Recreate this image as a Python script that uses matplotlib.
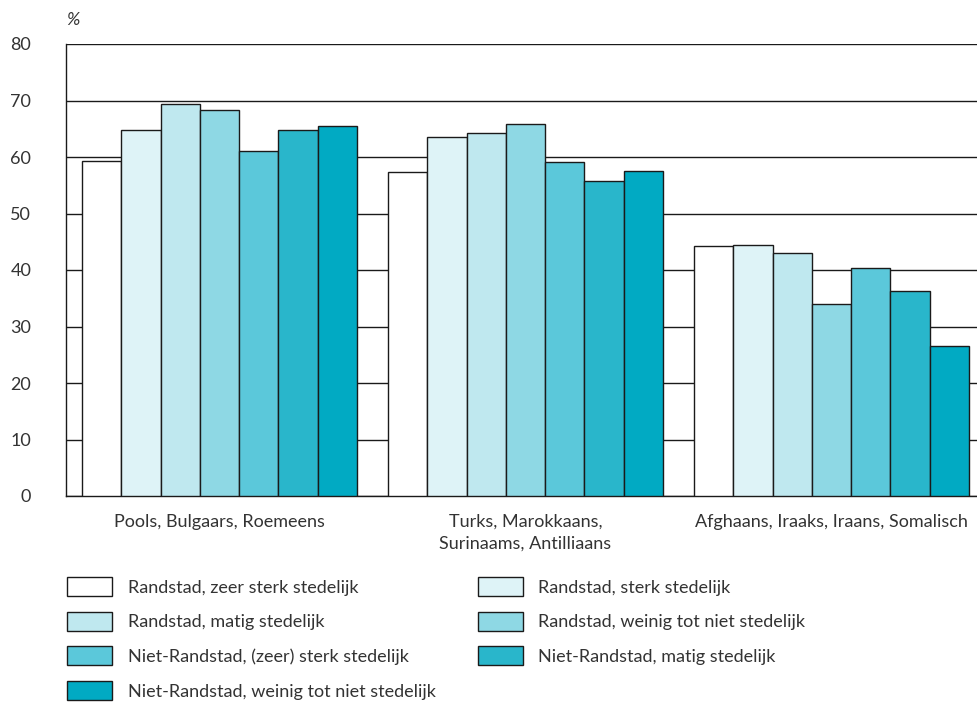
import numpy as np
import matplotlib
matplotlib.use('Agg')
from matplotlib import pyplot as plt

plt.rcParams['font.family'] = ['Lato', 'DejaVu Sans']

groups = ["Pools, Bulgaars, Roemeens",
          "Turks, Marokkaans,\nSurinaams, Antilliaans",
          "Afghaans, Iraaks, Iraans, Somalisch"]
series = ["Randstad, zeer sterk stedelijk",
          "Randstad, sterk stedelijk",
          "Randstad, matig stedelijk",
          "Randstad, weinig tot niet stedelijk",
          "Niet-Randstad, (zeer) sterk stedelijk",
          "Niet-Randstad, matig stedelijk",
          "Niet-Randstad, weinig tot niet stedelijk"]
values = [
    [59.3, 57.3, 44.2],
    [64.8, 63.5, 44.4],
    [69.3, 64.2, 43.0],
    [68.4, 65.8, 33.9],
    [61.1, 59.2, 40.4],
    [64.8, 55.8, 36.3],
    [65.5, 57.6, 26.5],
]
colors = ['#ffffff', '#def3f7', '#bfe8ef', '#8ed8e4', '#5bc8da', '#29b6cb', '#01aac3']
yticks = [0, 10, 20, 30, 40, 50, 60, 70, 80]

text_col = '#333333'
fs = 13
fig = plt.figure(figsize=(9.77, 7.03), dpi=100)
ax = fig.add_axes([66/977, 1 - 496/703, (977 - 66)/977, (496 - 44)/703])

group_step = 7.79
centers = np.arange(len(groups)) * group_step
handles = []
for i, name in enumerate(series):
    xs = centers - 3 + i
    h = ax.bar(xs, values[i], width=1.0, color=colors[i], edgecolor='#1a1a1a',
               linewidth=1.0, label=name, zorder=3)
    handles.append(h)

ax.set_xlim(-3.5 - 16/39.3, centers[-1] + 3.5 + 8/39.3)
ax.set_ylim(0, 80)
ax.set_yticks(yticks)
ax.set_yticklabels([str(t) for t in yticks])
ax.yaxis.grid(True, color='#1a1a1a', linewidth=1.0, zorder=0)
ax.set_axisbelow(True)
ax.tick_params(axis='y', length=0, pad=25, labelsize=fs, labelcolor=text_col)
ax.set_xticks(centers)
ax.set_xticklabels(groups, fontsize=fs, color=text_col, linespacing=1.45)
ax.tick_params(axis='x', length=0, pad=13)
for s in ['top', 'right']:
    ax.spines[s].set_visible(False)
for s in ['left', 'bottom']:
    ax.spines[s].set_color('#1a1a1a')
    ax.spines[s].set_linewidth(1.0)

fig.text(66/977, 1 - 20/703, '%', fontsize=fs, style='italic', color=text_col,
         ha='left', va='center')

order = [0, 2, 4, 6, 1, 3, 5]
leg = fig.legend([handles[k] for k in order], [series[k] for k in order],
                 ncol=2, loc='upper left', bbox_to_anchor=(60/977, 1 - 570/703),
                 frameon=False, fontsize=fs, handlelength=2.5, handleheight=1.22,
                 handletextpad=0.85, labelspacing=0.88, columnspacing=2.33,
                 labelcolor=text_col, borderaxespad=0)

fig.savefig('out.png', dpi=100)
